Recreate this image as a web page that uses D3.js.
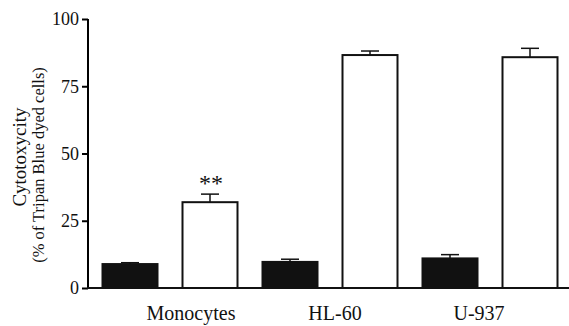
<!DOCTYPE html>
<style>
    body { margin: 0; background: #fff; }
    svg text { font-family: "Liberation Serif", "Times New Roman", serif; fill: #111; }
</style>
<body>
<script src="https://d3js.org/d3.v7.min.js"></script>
<script>
    var groups = ["Monocytes", "HL-60", "U-937"];
    var series = ["control", "treated"];
    var control = [8.9, 9.7, 11.0];
    var controlErr = [0.5, 1.0, 1.4];
    var treated = [31.9, 86.6, 85.8];
    var treatedErr = [3.0, 1.5, 3.3];
    var yTicks = [0, 25, 50, 75, 100];
    var marks = ["**", "", ""];

    var width = 569,
        height = 326;

    var svg = d3.select("body").append("svg")
        .attr("width", width)
        .attr("height", height);

    var x0 = d3.scaleBand()
        .domain(groups)
        .range([90, 570]);

    var x1 = d3.scaleBand()
        .domain(series)
        .range([0, x0.bandwidth()])
        .paddingInner(0.3125)
        .paddingOuter(0.15625);

    // labels sit a little off the group centres in the original
    var xLab = d3.scalePoint()
        .domain(groups)
        .range([191, 479]);

    var y = d3.scaleLinear()
        .domain([0, 100])
        .range([288, 19]);

    var data = groups.map(function(g, i) {
        return [
            {group: g, key: "control", value: control[i], err: controlErr[i]},
            {group: g, key: "treated", value: treated[i], err: treatedErr[i]}
        ];
    });

    var bars = svg.append("g")
        .selectAll("g")
        .data(data)
        .enter().append("g")
        .attr("transform", function(d) { return "translate(" + x0(d[0].group) + ",0)"; })
        .selectAll("g")
        .data(function(d) { return d; })
        .enter().append("g");

    bars.append("rect")
        .attr("x", function(d) { return x1(d.key); })
        .attr("y", function(d) { return y(d.value); })
        .attr("width", x1.bandwidth())
        .attr("height", function(d) { return y(0) - y(d.value); })
        .attr("fill", function(d) { return d.key == "control" ? "#111" : "#fff"; })
        .attr("stroke", "#111")
        .attr("stroke-width", 2);

    // one-sided error bars
    bars.append("line")
        .attr("x1", function(d) { return x1(d.key) + x1.bandwidth() / 2; })
        .attr("x2", function(d) { return x1(d.key) + x1.bandwidth() / 2; })
        .attr("y1", function(d) { return y(d.value); })
        .attr("y2", function(d) { return y(d.value + d.err); })
        .attr("stroke", "#111")
        .attr("stroke-width", 1.5);

    bars.append("line")
        .attr("x1", function(d) { return x1(d.key) + x1.bandwidth() / 2 - 9; })
        .attr("x2", function(d) { return x1(d.key) + x1.bandwidth() / 2 + 9; })
        .attr("y1", function(d) { return y(d.value + d.err); })
        .attr("y2", function(d) { return y(d.value + d.err); })
        .attr("stroke", "#111")
        .attr("stroke-width", 1.5);

    svg.append("g")
        .selectAll("text")
        .data(groups)
        .enter().append("text")
        .attr("x", function(d) { return x0(d) + x1("treated") + x1.bandwidth() / 2 + 1; })
        .attr("y", function(d, i) { return y(treated[i] + treatedErr[i]) - 3; })
        .attr("text-anchor", "middle")
        .attr("font-size", 24)
        .text(function(d, i) { return marks[i]; });

    // axes
    var yAxis = svg.append("g")
        .attr("transform", "translate(88,0)")
        .call(d3.axisLeft(y).tickValues(yTicks).tickSize(6).tickPadding(3));
    yAxis.select(".domain").attr("stroke-width", 2).attr("d", "M0," + y(100) + "V" + y(0));
    yAxis.selectAll(".tick line").attr("stroke-width", 2);
    yAxis.selectAll("text").attr("font-size", 18).attr("font-family", null);

    svg.append("line")
        .attr("x1", 87)
        .attr("x2", width)
        .attr("y1", y(0))
        .attr("y2", y(0))
        .attr("stroke", "#111")
        .attr("stroke-width", 2);

    svg.append("g")
        .selectAll("text")
        .data(groups)
        .enter().append("text")
        .attr("x", function(d) { return xLab(d); })
        .attr("y", 320)
        .attr("text-anchor", "middle")
        .attr("font-size", 20)
        .text(function(d) { return d; });

    svg.append("text")
        .attr("transform", "translate(26,157) rotate(-90)")
        .attr("text-anchor", "middle")
        .attr("font-size", 19)
        .text("Cytotoxycity");

    svg.append("text")
        .attr("transform", "translate(44,165) rotate(-90)")
        .attr("text-anchor", "middle")
        .attr("font-size", 16.5)
        .text("(% of Tripan Blue dyed cells)");
</script>
</body>
